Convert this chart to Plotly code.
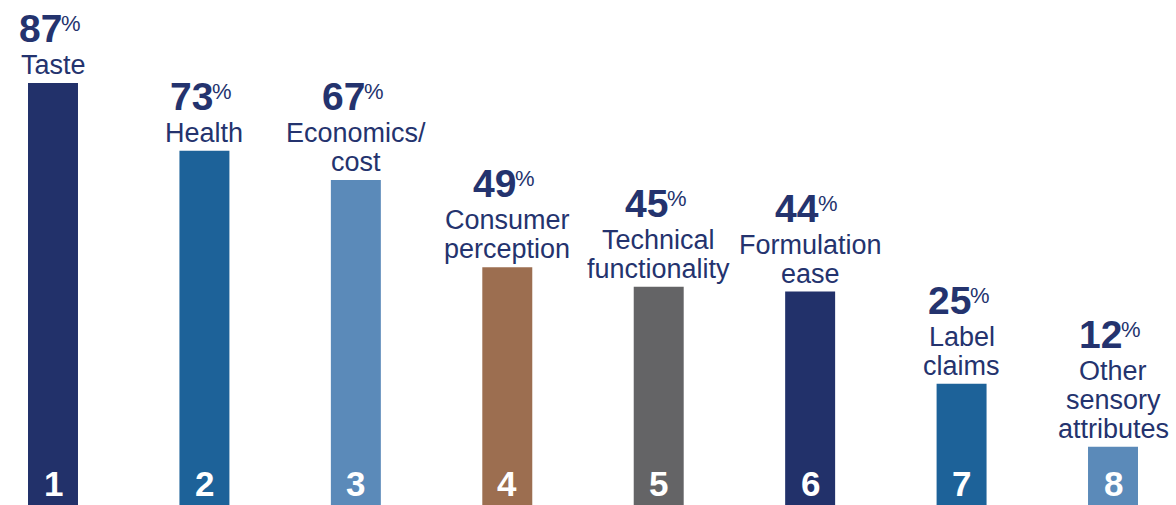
import plotly.graph_objects as go

ranks = ["1", "2", "3", "4", "5", "6", "7", "8"]
values = [87, 73, 67, 49, 45, 44, 25, 12]
labels = ["Taste", "Health", "Economics/<br>cost", "Consumer<br>perception",
          "Technical<br>functionality", "Formulation<br>ease", "Label<br>claims",
          "Other<br>sensory<br>attributes"]
colors = ["#22316A", "#1D6299", "#5B8AB9", "#9C6E50", "#646466",
          "#22316A", "#1D6299", "#5B8AB9"]

TEXT = "#24336E"
FONT = "Liberation Sans, Arial, Helvetica, sans-serif"

xs = list(range(len(ranks)))
fig = go.Figure(go.Bar(x=xs, y=values, marker_color=colors, width=0.33,
                       marker_line_width=0, hoverinfo="skip"))

ann = []
LINE = 29
for i, (v, lab, r) in enumerate(zip(values, labels, ranks)):
    lines = lab.split("<br>")
    n = len(lines)
    for k, ln in enumerate(reversed(lines)):
        ann.append(dict(x=i, y=v, text=ln, showarrow=False, xanchor="center",
                        yanchor="bottom", yshift=1 + k * LINE,
                        font=dict(family=FONT, size=27, color=TEXT)))
    ys = 31 + (n - 1) * LINE
    ann.append(dict(x=i, y=v, text=f"<b>{v}</b>",
                    showarrow=False, xanchor="right", yanchor="bottom",
                    xshift=11, yshift=ys,
                    font=dict(family=FONT, size=39, color=TEXT)))
    ann.append(dict(x=i, y=v, text="%",
                    showarrow=False, xanchor="left", yanchor="bottom",
                    xshift=6, yshift=ys + 14,
                    font=dict(family=FONT, size=22, color=TEXT)))
    ann.append(dict(x=i, y=0, text=f"<b>{r}</b>", showarrow=False,
                    xanchor="center", yanchor="bottom", yshift=0,
                    font=dict(family=FONT, size=35, color="white")))

fig.update_layout(
    width=1176, height=505, margin=dict(l=0, r=0, t=0, b=0),
    paper_bgcolor="white", plot_bgcolor="white", showlegend=False,
    annotations=ann,
    xaxis=dict(range=[-0.35, 7.416], visible=False, fixedrange=True),
    yaxis=dict(range=[0, 104.1], visible=False, fixedrange=True),
)
fig.write_html("out.html", config={"displayModeBar": False})
